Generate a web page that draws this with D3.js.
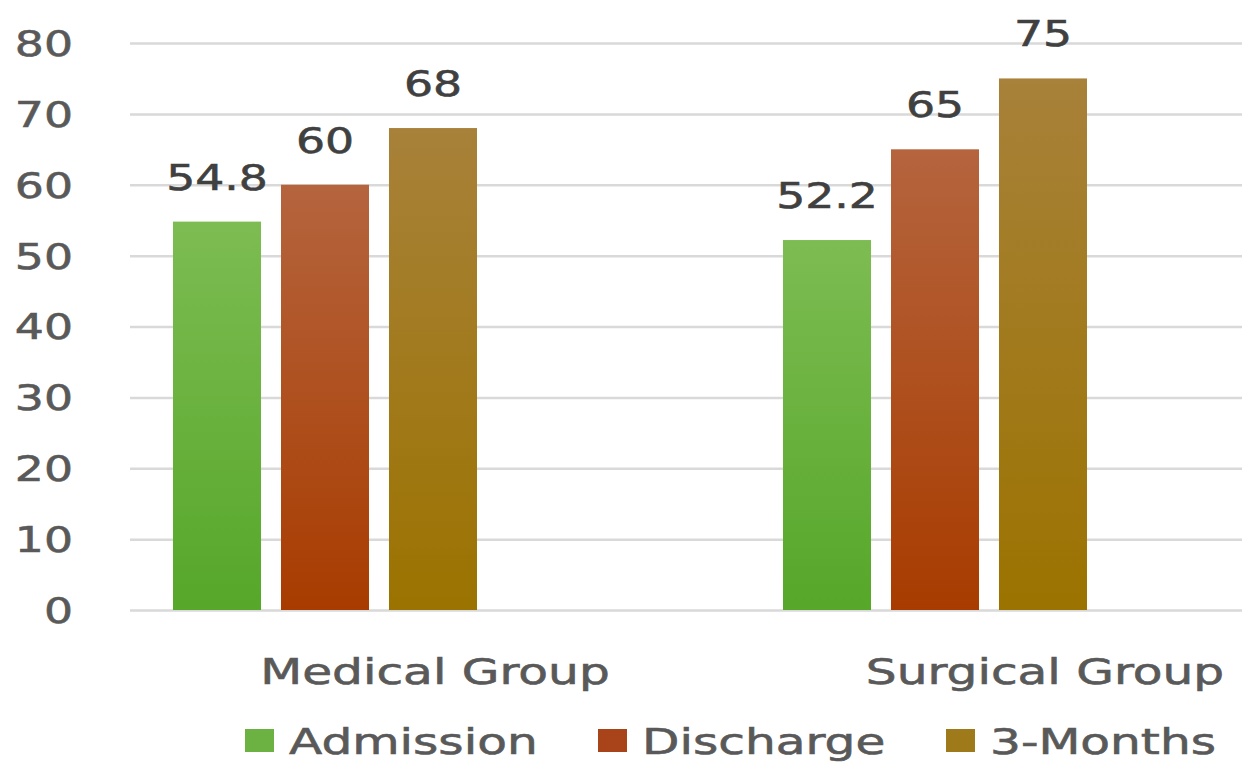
<!DOCTYPE html>
<html>
<head>
<meta charset="utf-8">
<script src="https://cdn.jsdelivr.net/npm/d3@7"></script>
<style>
  html, body { margin: 0; padding: 0; background: #fff; }
  svg { display: block; font-family: 'DejaVu Sans', Verdana, sans-serif; }
</style>
</head>
<body>
<div id="chart"></div>
<script>
const groups = ['Medical Group', 'Surgical Group']
const series = ['Admission', 'Discharge', '3-Months']
const admission = [54.8, 52.2]
const discharge = [60, 65]
const threeMonths = [68, 75]
const yTicks = [0, 10, 20, 30, 40, 50, 60, 70, 80]

const values = [admission, discharge, threeMonths]
const colorsTop = ['#7dbc52', '#b5643e', '#a8813a']
const colorsBottom = ['#56a72a', '#a83c00', '#9b7300']
const legendColors = ['#6cb242', '#a9441a', '#9f7a1a']

const width = 1242
const height = 764
// the picture is stretched horizontally
const SX_NUM = 1.27
const SX_WORD = 1.35

const svg = d3.select('#chart').append('svg')
  .attr('width', width)
  .attr('height', height)

const defs = svg.append('defs')
series.forEach((s, i) => {
  const g = defs.append('linearGradient')
    .attr('id', 'grad' + i)
    .attr('x1', 0).attr('y1', 0).attr('x2', 0).attr('y2', 1)
  g.append('stop').attr('offset', '0%').attr('stop-color', colorsTop[i])
  g.append('stop').attr('offset', '100%').attr('stop-color', colorsBottom[i])
})

const y = d3.scaleLinear().domain([0, 80]).range([610, 43])

const x0 = d3.scaleBand().domain(groups).range([20, 1240])
const x1 = d3.scaleBand().domain(series).range([-152, 152]).paddingInner(0.185)

const wide = (sel, fx, fy, sx) => sel
  .attr('transform', (d, i) => `translate(${fx(d, i)},${fy(d, i)}) scale(${sx},1)`)

const textStyle = (sel, color) => sel
  .attr('font-size', 36)
  .attr('fill', color)
  .attr('stroke', color)
  .attr('stroke-width', 0.6)

// grid
svg.append('g')
  .attr('transform', 'translate(130,0)')
  .call(d3.axisLeft(y).tickValues(yTicks).tickSize(-(width - 130)).tickFormat(''))
  .call(g => g.select('.domain').remove())
  .call(g => g.selectAll('line').attr('stroke', '#d9d9d9').attr('stroke-width', 2.5))

// y labels
svg.append('g').selectAll('text')
  .data(yTicks)
  .join('text')
  .call(wide, () => 73, d => y(d), SX_NUM)
  .attr('text-anchor', 'end')
  .attr('dy', '0.36em')
  .call(textStyle, '#595959')
  .text(d => d)

// bars
const bars = []
groups.forEach((g, gi) => {
  series.forEach((s, si) => {
    bars.push({group: g, series: s, si, value: values[si][gi]})
  })
})

const barG = svg.append('g')
barG.selectAll('rect')
  .data(bars)
  .join('rect')
  .attr('x', d => x0(d.group) + x0.bandwidth() / 2 + x1(d.series))
  .attr('y', d => y(d.value))
  .attr('width', x1.bandwidth())
  .attr('height', d => y(0) - y(d.value))
  .attr('fill', d => `url(#grad${d.si})`)

// value labels
barG.selectAll('text')
  .data(bars)
  .join('text')
  .call(wide,
    d => x0(d.group) + x0.bandwidth() / 2 + x1(d.series) + x1.bandwidth() / 2,
    d => y(d.value) - 45, SX_NUM)
  .attr('text-anchor', 'middle')
  .attr('dy', '0.36em')
  .call(textStyle, '#404040')
  .text(d => d.value)

// category labels (sit right of the bar groups in the picture)
svg.append('g').selectAll('text')
  .data(groups)
  .join('text')
  .call(wide, d => x0(d) + x0.bandwidth() / 2 + 110, () => 671, SX_WORD)
  .attr('text-anchor', 'middle')
  .attr('dy', '0.36em')
  .call(textStyle, '#595959')
  .text(d => d)

// legend
const legendX = [245, 598, 946]
const leg = svg.append('g').selectAll('g')
  .data(series)
  .join('g')
  .attr('transform', (d, i) => `translate(${legendX[i]},741)`)

leg.append('rect')
  .attr('x', 0).attr('y', -12)
  .attr('width', 29).attr('height', 23)
  .attr('fill', (d, i) => legendColors[i])

leg.append('text')
  .call(wide, () => 44, () => 0, SX_WORD)
  .attr('dy', '0.36em')
  .call(textStyle, '#595959')
  .text(d => d)
</script>
</body>
</html>
